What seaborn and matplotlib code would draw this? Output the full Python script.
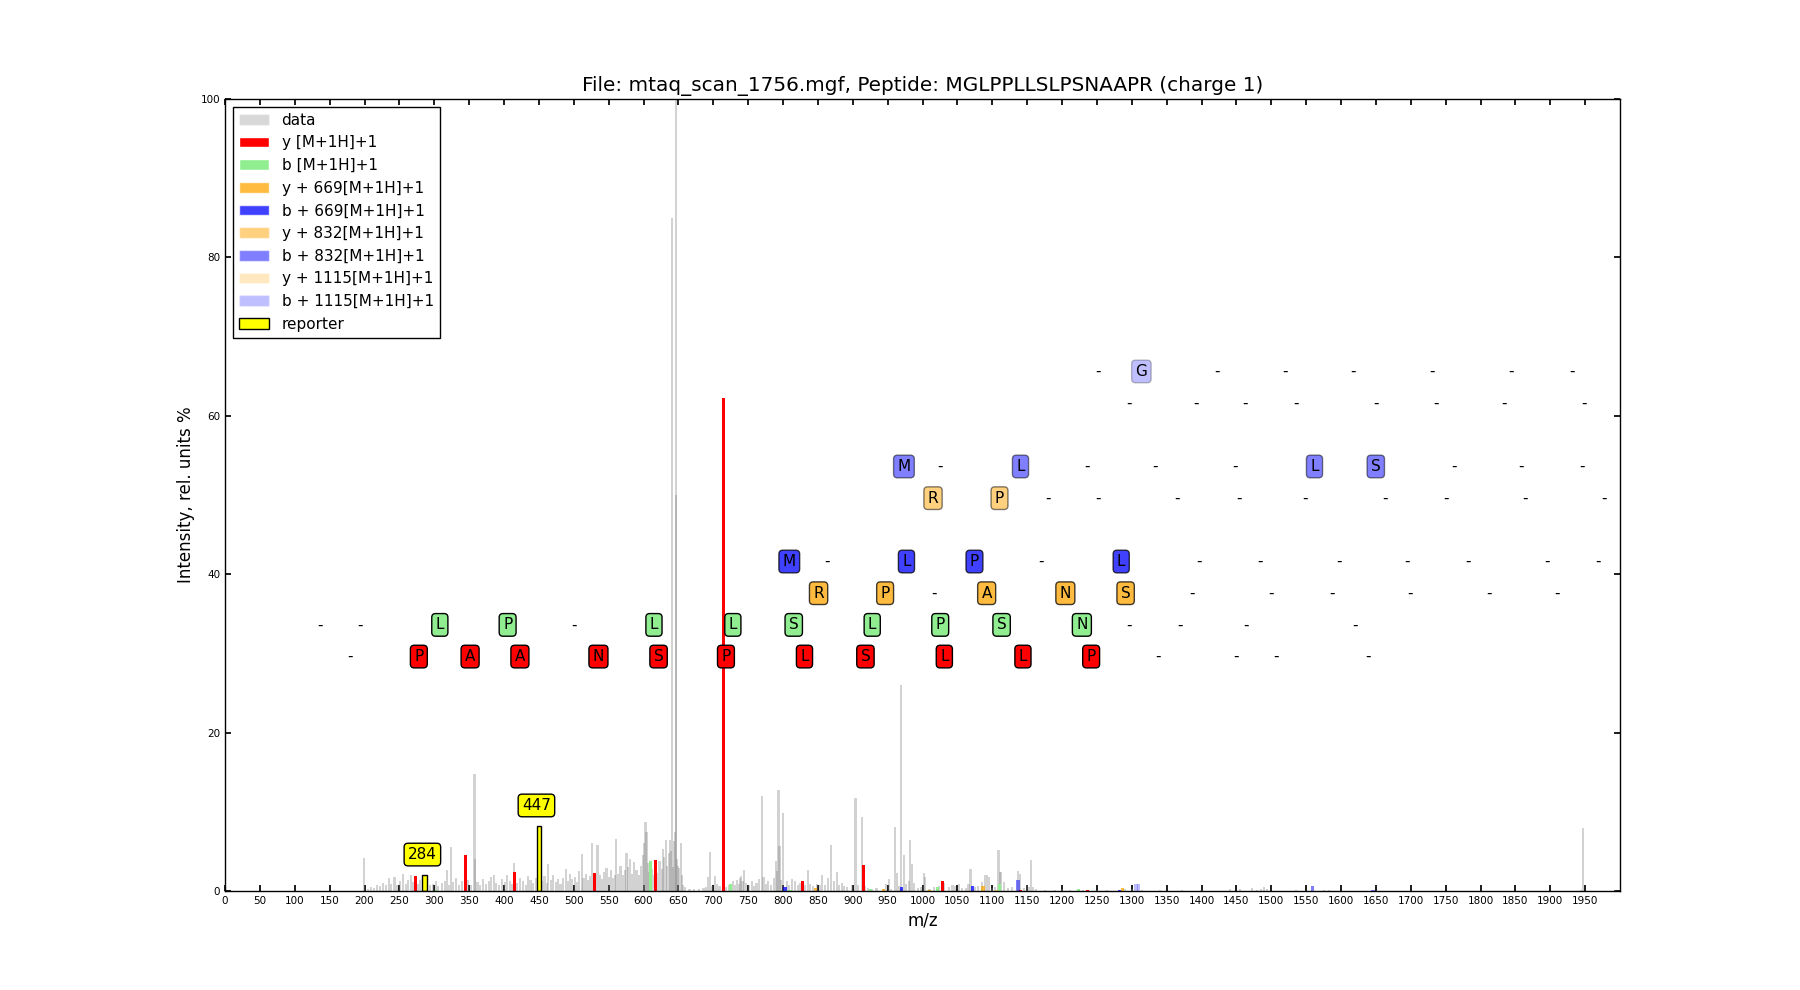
import numpy as np
import pandas as pd
import matplotlib.pyplot as plt
import seaborn as sns
from matplotlib.patches import Patch

sns.set_theme(style='ticks')
plt.rcParams.update({
    'font.family': ['DejaVu Sans'],
    'text.color': 'black',
    'axes.edgecolor': 'black',
    'axes.labelcolor': 'black',
    'axes.linewidth': 1.0,
    'xtick.color': 'black',
    'ytick.color': 'black',
    'xtick.direction': 'in',
    'ytick.direction': 'in',
    'xtick.top': True,
    'ytick.right': True,
    'xtick.major.size': 4,
    'ytick.major.size': 4,
    'xtick.labelsize': 7.5,
    'ytick.labelsize': 7.5,
})

title = 'File: mtaq_scan_1756.mgf, Peptide: MGLPPLLSLPSNAAPR (charge 1)'

# spectrum - main peaks
data_mz = [199.2, 323.7, 357.7, 413.7, 463.5, 489.3, 511.4, 526.7, 534.0, 547.0, 561.0,
           575.6, 580.4, 590.0, 602.9, 604.3, 628.2, 632.0, 637.9, 640.7, 646.2, 646.8,
           651.3, 653.6, 695.3, 702.5, 738.5, 740.3, 744.6, 769.5, 790.0, 793.5, 795.0,
           800.6, 836.1, 856.2, 869.1, 877.0, 904.0, 913.6, 951.5, 960.1, 969.7, 982.6,
           1002.2, 1068.8, 1089.0, 1094.7, 1109.0, 1113.0, 1136.8, 1155.0, 1947.5]
data_int = [4.2, 5.6, 14.8, 3.5, 3.4, 2.8, 4.7, 6.1, 5.8, 2.9, 6.6,
            4.8, 4.1, 2.7, 8.7, 7.5, 5.3, 6.4, 6.4, 85.0, 100.0, 50.0,
            2.9, 6.1, 4.9, 1.9, 1.6, 1.9, 2.6, 12.0, 3.8, 12.7, 5.7,
            9.9, 2.7, 2.0, 5.8, 2.4, 11.8, 9.3, 1.5, 8.1, 26.0, 6.5,
            2.3, 2.8, 2.0, 1.8, 5.2, 2.4, 2.5, 3.9, 8.0]

# spectrum - small peaks
noise_mz = [205, 209, 214, 218, 222, 226, 231, 235, 238, 243, 246, 251, 255, 259, 263, 267,
            270, 276, 280, 290, 294, 298, 302, 306, 311, 315, 318, 321, 327, 331, 336, 340,
            344, 349, 353, 358, 362, 366,
            370, 374, 378, 382, 386, 389, 393, 397, 401, 404, 408, 411, 419, 423, 427, 431,
            435, 438, 442, 446, 454, 458, 462, 467, 470, 474, 478, 481, 485, 492, 495, 498,
            502, 505, 508, 514, 517, 520, 523, 529, 537, 540, 543, 550, 553, 556, 559, 564,
            567, 570, 573, 578, 583, 586, 593, 596, 599, 601, 606, 608, 612, 615, 620, 623,
            626, 630, 634, 636, 639, 642, 644, 645, 648, 650, 655, 657, 660,
            666, 672, 680, 686, 690, 693, 698,
            705, 709, 718, 722, 728, 731, 734, 737, 742, 747, 751, 755, 758, 762, 766, 772,
            775, 779, 783, 787, 792, 797, 806, 809, 813, 817, 821, 825, 832, 839, 843, 849,
            853, 860, 864, 873, 880, 884, 888, 892, 899, 908, 918, 922, 928, 934,
            945, 948, 955, 963, 966, 973, 976, 980, 985, 988, 993, 998, 1004, 1010, 1016,
            1024, 1031, 1038, 1043, 1047, 1052, 1056, 1062, 1066, 1075, 1080, 1085, 1092,
            1099, 1104, 1111, 1117, 1123, 1128, 1140, 1145, 1150, 1153, 1158, 1163,
            1175, 1190, 1200, 1212, 1230, 1250, 1265, 1290, 1300, 1315, 1340, 1372, 1400,
            1441, 1455, 1473, 1480, 1485, 1490, 1494, 1535, 1575, 1583, 1944, 1993]
noise_int = [0.3, 0.5, 0.4, 0.8, 0.6, 1.0, 0.7, 1.6, 0.9, 1.8, 0.8, 1.2, 2.1, 0.9, 1.4, 2.0,
             1.1, 0.9, 1.4, 1.1, 0.7, 0.9, 1.2, 0.6, 1.0, 1.3, 2.6, 0.8, 1.1, 1.6, 0.8, 1.2,
             0.9, 1.4, 0.8, 4.0, 1.1, 0.7,
             1.5, 0.9, 1.2, 1.8, 2.0, 1.0, 0.8, 1.5, 1.1, 2.0, 1.3, 0.9, 1.0, 1.6, 1.2, 0.8,
             1.9, 1.4, 1.0, 1.6, 1.3, 1.9, 1.0, 1.4, 2.0, 1.1, 1.5, 0.9, 1.7, 1.2, 2.2, 1.5,
             1.8, 1.1, 2.5, 1.6, 2.2, 1.4, 1.9, 1.2, 2.0, 1.5, 2.4, 1.8, 2.6, 1.7, 2.0, 2.2,
             3.1, 2.0, 2.6, 3.0, 2.2, 3.6, 2.0, 3.2, 4.5, 6.0, 3.5, 2.4, 2.8, 2.0, 2.3, 3.8,
             2.8, 4.3, 3.1, 4.8, 5.0, 3.0, 6.3, 7.5, 4.0, 3.2, 2.0, 0.8, 0.5,
             0.3, 0.2, 0.3, 0.4, 0.5, 1.8, 0.6,
             0.9, 0.6, 0.5, 0.7, 1.2, 0.8, 1.4, 0.9, 1.2, 1.0, 0.7, 1.3, 0.6, 1.0, 1.5, 1.8,
             0.9, 1.2, 0.8, 1.6, 2.5, 1.4, 1.2, 0.7, 1.5, 1.2, 0.8, 1.0, 0.8, 0.9, 0.6, 0.9,
             0.7, 0.8, 1.6, 1.3, 0.8, 1.0, 0.6, 0.5, 0.7, 0.8, 0.6, 0.4, 0.3, 0.4,
             0.3, 0.9, 0.3, 2.3, 0.6, 4.5, 0.9, 1.2, 3.4, 1.0, 0.4, 0.5, 1.8, 0.3, 0.5,
             0.6, 1.0, 0.5, 0.8, 0.6, 0.9, 0.4, 0.4, 0.9, 0.5, 0.6, 1.1, 2.0,
             0.4, 0.5, 2.4, 1.1, 0.4, 0.5, 2.2, 0.4, 0.7, 0.5, 0.5, 0.3,
             0.15, 0.15, 0.2, 0.1, 0.15, 0.1, 0.15, 0.2, 0.25, 0.15, 0.1, 0.1, 0.12,
             0.25, 0.3, 0.4, 0.15, 0.2, 0.45, 0.2, 0.1, 0.15, 0.1, 0.15, 0.1]

# matched ion peaks
y_mz = [273.4, 344.3, 415.6, 530.0, 617.7, 714.5, 828.0, 915.0, 1028.6, 1140.0, 1237.0]
y_int = [1.9, 4.55, 2.4, 2.3, 3.9, 62.2, 1.3, 3.3, 1.3, 0.15, 0.15]
b_mz = [303.6, 610.5, 724.5, 810.0, 925.0, 1021.8, 1110.0, 1224.0]
b_int = [0.1, 3.8, 0.9, 0.15, 0.2, 0.5, 0.9, 0.3]
y669_mz = [847.0, 944.0, 1010.0, 1086.6, 1286.7]
y669_int = [0.4, 0.3, 0.15, 0.65, 0.4]
b669_mz = [803.0, 969.5, 1071.2, 1282.0]
b669_int = [0.5, 0.45, 0.6, 0.15]
y832_mz = [1009.0, 1106.0]
y832_int = [0.1, 0.15]
b832_mz = [1136.8, 1559.0, 1645.9]
b832_int = [1.4, 0.63, 0.12]
b1115_mz = [1306.0, 1309.5]
b1115_int = [0.9, 0.9]
rep_mz = [286.0, 450.0]
rep_int = [2.0, 8.2]
rep_labels = ['284', '447']
rep_label_mz = [283.0, 446.5]

# sequence annotation rows
rows = [
    # (legend label, color, alpha, row height, letters, positions)
    ('y [M+1H]+1', 'red', 1.0, 29.6,
     ['-', 'P', 'A', 'A', 'N', 'S', 'P', 'L', 'S', 'L', 'L', 'P', '-', '-', '-', '-'],
     [179, 277.9, 351.4, 422.8, 535.4, 621.6, 718.2, 830.8, 918.2, 1031.3, 1144, 1241.8,
      1338, 1450, 1507, 1638]),
    ('b [M+1H]+1', 'lightgreen', 1.0, 33.6,
     ['-', '-', 'L', 'P', '-', 'L', 'L', 'S', 'L', 'P', 'S', 'N', '-', '-', '-', '-'],
     [136.2, 193.8, 308, 405.2, 500.8, 615, 728.1, 815.4, 927.9, 1025.4, 1113.4, 1228.5,
      1296.6, 1368.5, 1464.5, 1620]),
    ('y + 669[M+1H]+1', 'orange', 0.75, 37.6,
     ['R', 'P', '-', 'A', 'N', 'S', '-', '-', '-', '-', '-', '-'],
     [851, 946.4, 1017, 1092, 1204.8, 1291.2, 1386.8, 1500, 1586.9, 1699, 1812, 1909.5]),
    ('b + 669[M+1H]+1', 'blue', 0.75, 41.6,
     ['M', '-', 'L', 'P', '-', 'L', '-', '-', '-', '-', '-', '-', '-'],
     [809, 863, 977, 1074.5, 1169.8, 1284.9, 1397, 1483.6, 1597.2, 1694.6, 1781.9, 1895.5,
      1968.1]),
    ('y + 832[M+1H]+1', 'orange', 0.5, 49.6,
     ['R', 'P', '-', '-', '-', '-', '-', '-', '-', '-', '-'],
     [1015.1, 1110.4, 1180, 1251.9, 1365.5, 1453.5, 1548.8, 1663.1, 1750.3, 1864, 1977.6]),
    ('b + 832[M+1H]+1', 'blue', 0.5, 53.6,
     ['M', '-', 'L', '-', '-', '-', 'L', 'S', '-', '-', '-'],
     [973.4, 1025.4, 1140.5, 1236.5, 1334, 1447.6, 1562, 1649.9, 1761.3, 1858.1, 1945.3]),
    ('y + 1115[M+1H]+1', 'orange', 0.25, 61.6,
     ['-', '-', '-', '-', '-', '-', '-', '-'],
     [1295.9, 1392.6, 1463, 1534.8, 1650, 1736.4, 1833.9, 1948.3]),
    ('b + 1115[M+1H]+1', 'blue', 0.25, 65.6,
     ['-', 'G', '-', '-', '-', '-', '-', '-'],
     [1252.2, 1313.8, 1422.7, 1519.5, 1617, 1730.6, 1844.2, 1931.4]),
]

fig, ax = plt.subplots(figsize=(18, 9.9), dpi=100)
fig.subplots_adjust(left=0.125, right=0.9, bottom=0.1, top=0.9)


def draw_bars(mz, inten, color, alpha, width, edgecolor='none', lw=0.0):
    df = pd.DataFrame({'mz': mz, 'intensity': inten})
    uniq = np.unique(df['mz'])
    native = np.diff(uniq).min() if len(uniq) > 1 else 1.0
    sns.barplot(df, x='mz', y='intensity', native_scale=True, orient='x',
                width=width / native, color=color, saturation=1, errorbar=None,
                alpha=alpha, edgecolor=edgecolor, linewidth=lw, ax=ax)


draw_bars(noise_mz, noise_int, 'gray', 0.35, 3.0)
draw_bars(data_mz, data_int, 'gray', 0.35, 3.0)
draw_bars(y_mz, y_int, 'red', 1.0, 4.6)
draw_bars(b_mz, b_int, 'lightgreen', 1.0, 4.6)
draw_bars(y669_mz, y669_int, 'orange', 0.75, 4.6)
draw_bars(b669_mz, b669_int, 'blue', 0.75, 4.6)
draw_bars(y832_mz, y832_int, 'orange', 0.5, 4.6)
draw_bars(b832_mz, b832_int, 'blue', 0.5, 4.6)
draw_bars(b1115_mz, b1115_int, 'blue', 0.25, 4.6)
draw_bars(rep_mz, rep_int, 'yellow', 1.0, 6.0, edgecolor='black', lw=1.0)

for name, color, alpha, level, letters, pos in rows:
    for letter, x in zip(letters, pos):
        if letter == '-':
            ax.text(x, level, '-', ha='center', va='center', fontsize=11, zorder=5)
        else:
            ax.text(x, level, letter, ha='center', va='center', fontsize=11, zorder=5,
                    bbox=dict(boxstyle='round,pad=0.25', facecolor=color,
                              edgecolor='black', alpha=alpha))

for lab, x, h in zip(rep_labels, rep_label_mz, rep_int):
    ax.text(x, h + 2.6, lab, ha='center', va='center', fontsize=11, zorder=5,
            bbox=dict(boxstyle='round,pad=0.25', facecolor='yellow', edgecolor='black'))

ax.set_xlim(0, 2000)
ax.set_ylim(0, 100)
ax.set_xticks(np.arange(0, 2000, 50))
ax.set_yticks([0, 20, 40, 60, 80, 100])
ax.set_xlabel('m/z', fontsize=12)
ax.set_ylabel('Intensity, rel. units %', fontsize=12)
ax.set_title(title, fontsize=14.4)
sns.despine(ax=ax, top=False, right=False)

handles = [Patch(facecolor='gray', alpha=0.3, label='data')]
for name, color, alpha, level, letters, pos in rows:
    handles.append(Patch(facecolor=color, alpha=alpha, label=name))
handles.append(Patch(facecolor='yellow', edgecolor='black', label='reporter'))
leg = ax.legend(handles=handles, loc='upper left', fontsize=11, fancybox=False,
                framealpha=1, edgecolor='black', borderaxespad=0.5)
leg.get_frame().set_linewidth(1.0)

plt.savefig('out.png', dpi=100)
